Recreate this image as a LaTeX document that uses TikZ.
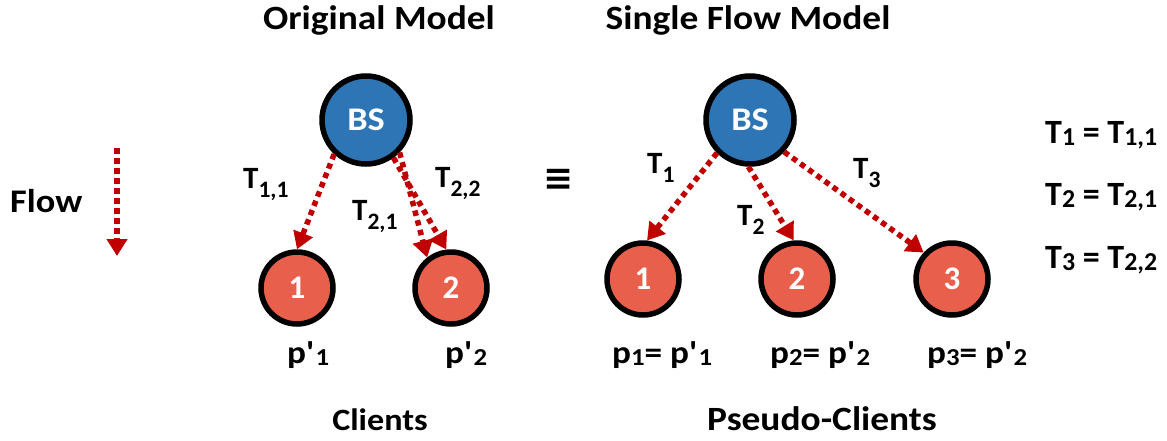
\documentclass[tikz,border=0pt]{standalone}
\usepackage{fontspec}
\usepackage{graphicx}
\setmainfont{Carlito}
\newfontfamily\widefont[FakeStretch=1.1]{Carlito}
\newfontfamily\symfont{DejaVu Sans}
\usetikzlibrary{arrows.meta}

\definecolor{bsblue}{HTML}{2E75B6}
\definecolor{clientred}{HTML}{E8604C}
\definecolor{flowred}{HTML}{C00000}

% lowered subscript used in the edge labels
\newcommand\lowsub[1]{\raisebox{-0.32em}{\scalebox{0.76}{#1}}}
% slightly lowered subscript used in the equations and probabilities
\newcommand\flatsub[1]{\raisebox{-0.08em}{\scalebox{0.76}{#1}}}
\newcommand\prm{\textquotesingle\kern2pt}

\begin{document}
\begin{tikzpicture}[x=1pt,y=-1pt,
  txt/.style={font=\widefont\bfseries\fontsize{34}{38}\selectfont, inner sep=0pt},
  lbl/.style={font=\bfseries\fontsize{31}{36}\selectfont, inner sep=0pt, anchor=base west},
  plbl/.style={font=\widefont\bfseries\fontsize{32}{36}\selectfont, inner sep=0pt, anchor=base west},
  eqn/.style={font=\bfseries\fontsize{34}{40}\selectfont, inner sep=0pt, anchor=base west},
  bsnode/.style={circle, draw=black, line width=5.5pt, fill=bsblue, minimum size=88pt,
    inner sep=0pt, text=white, font=\widefont\bfseries\fontsize{33}{33}\selectfont},
  clnode/.style={circle, draw=black, line width=5.5pt, fill=clientred, minimum size=72pt,
    inner sep=0pt, text=white, font=\bfseries\fontsize{33}{33}\selectfont},
  flowarrow/.style={draw=flowred, line width=5.5pt, dash pattern=on 5.5pt off 4.5pt,
    -{Triangle[length=17pt,width=20pt]}}
]
\useasboundingbox (0,0) rectangle (1167,440);

% titles
\node[txt, anchor=base] (t1) at (379,29) {Original Model};
\node[txt, anchor=base] (t2) at (748,29) {Single Flow Model};

% flow legend
\node[txt, anchor=base west, font=\widefont\bfseries\fontsize{33}{36}\selectfont] (fl) at (10,212) {Flow};
\coordinate (fa) at (117,148);
\coordinate (fb) at (117,256);
\draw[flowarrow] (fa) -- (fb);

% original model
\node[bsnode] (bsL) at (366,120) {BS};
\node[clnode] (c1L) at (297,288) {1};
\node[clnode] (c2L) at (451,288) {2};
\draw[flowarrow] (bsL.227) -- (c1L.90);
\draw[flowarrow] (bsL.316) -- (c2L.128);
\draw[flowarrow] (bsL.306) -- (c2L.97);
\node[lbl] (l11) at (243,188) {T\lowsub{1,1}};
\node[lbl] (l21) at (352,220) {T\lowsub{2,1}};
\node[lbl] (l22) at (435,187) {T\lowsub{2,2}};

% equivalence sign
\node[inner sep=0pt, font=\symfont\bfseries\fontsize{36}{36}\selectfont] (eq) at (559,180) {≡};

% single flow model
\node[bsnode] (bsR) at (750,120) {BS};
\node[clnode] (c1R) at (643,279) {1};
\node[clnode] (c2R) at (797,279) {2};
\node[clnode] (c3R) at (952,279) {3};
\draw[flowarrow] (bsR.225) -- (c1R.84);
\draw[flowarrow] (bsR.268) -- (c2R.95);
\draw[flowarrow] (bsR.317) -- (c3R.137);
\node[lbl] (r1) at (647,173) {T\lowsub{1}};
\node[lbl] (r2) at (737,225) {T\lowsub{2}};
\node[lbl] (r3) at (853,178) {T\lowsub{3}};

% correspondence of the flows
\node[eqn] (e1) at (1045,143) {T\flatsub{1} = T\flatsub{1,1}};
\node[eqn] (e2) at (1045,205) {T\flatsub{2} = T\flatsub{2,1}};
\node[eqn] (e3) at (1045,268) {T\flatsub{3} = T\flatsub{2,2}};

% probabilities
\node[plbl] (p1L) at (287,363) {p\prm\flatsub{1}};
\node[plbl] (p2L) at (445,363) {p\prm\flatsub{2}};
\node[plbl] (p1R) at (612,363) {p\flatsub{1}= p\prm\flatsub{1}};
\node[plbl] (p2R) at (770,363) {p\flatsub{2}= p\prm\flatsub{2}};
\node[plbl] (p3R) at (927,363) {p\flatsub{3}= p\prm\flatsub{2}};

% group captions
\node[txt, anchor=base, font=\widefont\bfseries\fontsize{31}{36}\selectfont] (cl) at (380,430) {Clients};
\node[txt, anchor=base] (pc) at (822,430) {Pseudo-Clients};
\end{tikzpicture}
\end{document}
